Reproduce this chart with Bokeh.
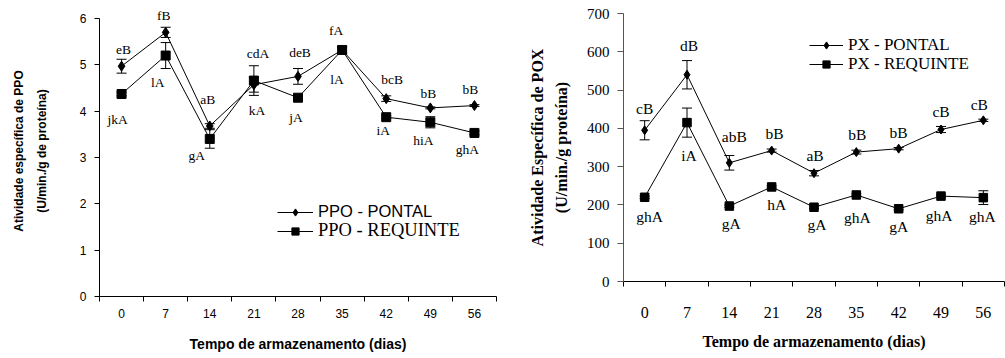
from bokeh.plotting import figure
from bokeh.models import (ColumnDataSource, FixedTicker, Whisker, TeeHead,
                          Legend, LegendItem, Range1d)
from bokeh.embed import file_html
from bokeh.resources import INLINE
from bokeh.core.properties import value

# ---------------- data ----------------
days = [0, 7, 14, 21, 28, 35, 42, 49, 56]

ppo_pontal = [4.97, 5.70, 3.68, 4.57, 4.75, 5.32, 4.27, 4.07, 4.12]
ppo_pontal_err = [0.15, 0.11, 0.05, 0.16, 0.17, 0.06, 0.06, 0.02, 0.02]
ppo_requinte = [4.37, 5.20, 3.40, 4.66, 4.29, 5.32, 3.87, 3.76, 3.53]
ppo_requinte_err = [0.04, 0.28, 0.20, 0.32, 0.04, 0.08, 0.03, 0.12, 0.04]
ppo_pontal_labels = ["eB", "fB", "aB", "cdA", "deB", "fA", "bcB", "bB", "bB"]
ppo_requinte_labels = ["jkA", "lA", "gA", "kA", "jA", "lA", "iA", "hiA", "ghA"]

pox_pontal = [395, 540, 310, 342, 283, 338, 347, 397, 421]
pox_pontal_err = [25, 37, 19, 4, 7, 5, 3, 8, 3]
pox_requinte = [220, 415, 197, 247, 194, 226, 190, 223, 219]
pox_requinte_err = [3, 38, 3, 3, 3, 3, 3, 3, 18]
pox_pontal_labels = ["cB", "dB", "abB", "bB", "aB", "bB", "bB", "cB", "cB"]
pox_requinte_labels = ["ghA", "iA", "gA", "hA", "gA", "ghA", "gA", "ghA", "ghA"]

ppo_yticks = [0, 1, 2, 3, 4, 5, 6]
pox_yticks = [0, 100, 200, 300, 400, 500, 600, 700]

# label offsets (screen px, +y = down)
ppo_p_dx = [2, -2, -2, 4, 2, -6, 6, -2, -4]
ppo_p_dy = [-17, -17, -26, -31, -24, -19, -19, -14, -16]
ppo_r_dx = [-4, -8, -13, 3, -2, -5, -3, -7, -7]
ppo_r_dy = [25, 27, 17, 30, 20, 30, 13, 18, 17]
pox_p_dx = [0, 2, 5, 3, 1, 1, 0, 0, -4]
pox_p_dy = [-22, -29, -26, -17, -18, -18, -16, -18, -16]
pox_r_dx = [5, 2, 2, 5, 3, 1, 0, -2, -1]
pox_r_dy = [19, 33, 17, 18, 17, 23, 18, 19, 19]

SANS = "Liberation Sans"
SERIF = "Liberation Serif"

half = (days[1] - days[0]) / 2
bounds_ticks = [d - half for d in days] + [days[-1] + half]


def series(p, vals, errs, labels, dx, dy, marker, msize, font, fsize):
    src = ColumnDataSource(dict(x=days, y=vals,
                                upper=[v + e for v, e in zip(vals, errs)],
                                lower=[v - e for v, e in zip(vals, errs)],
                                lab=labels, dx=dx, dy=dy))
    p.add_layout(Whisker(source=src, base="x", upper="upper", lower="lower",
                         line_color="black", line_width=1,
                         upper_head=TeeHead(size=10, line_color="black", line_width=1),
                         lower_head=TeeHead(size=10, line_color="black", line_width=1)))
    rl = p.line("x", "y", source=src, line_color="black", line_width=1)
    rs = p.scatter("x", "y", source=src, marker=marker, size=msize,
                   fill_color="black", line_color="black")
    p.text("x", "y", text="lab", source=src, x_offset="dx", y_offset="dy",
           text_font=value(font), text_font_size=fsize, text_align="center",
           text_baseline="middle", text_color="black")
    return rl, rs


def add_legend(p, label, rends, x, y, font, fsize, gw):
    leg = Legend(items=[LegendItem(label=label, renderers=list(rends))],
                 location=(x, y), glyph_width=gw, glyph_height=18,
                 label_height=18, label_standoff=5, padding=0, margin=0,
                 spacing=0, background_fill_alpha=0, border_line_alpha=0,
                 label_text_font=font, label_text_font_size=fsize,
                 label_text_color="black")
    p.add_layout(leg)


def style_axes(p, ytick_vals, ybounds, tick_font, xfs, yfs, axis_font, axis_fs,
               ycolor, ytick_out):
    p.grid.visible = False
    p.outline_line_color = None
    p.background_fill_color = "white"
    xa = p.xaxis[0]
    xa.ticker = FixedTicker(ticks=days, minor_ticks=bounds_ticks)
    xa.major_tick_out = 0
    xa.major_tick_in = 0
    xa.minor_tick_out = 5
    xa.minor_tick_in = 0
    xa.minor_tick_line_color = "black"
    xa.axis_line_color = "black"
    xa.major_label_text_font = tick_font
    xa.major_label_text_font_size = xfs
    xa.major_label_text_color = "black"
    xa.axis_label_text_font = axis_font
    xa.axis_label_text_font_size = axis_fs
    xa.axis_label_text_font_style = "bold"
    xa.axis_label_text_color = "black"
    ya = p.yaxis[0]
    ya.ticker = FixedTicker(ticks=ytick_vals)
    ya.bounds = ybounds
    ya.major_tick_out = ytick_out
    ya.major_tick_in = 0
    ya.minor_tick_line_color = None
    ya.axis_line_color = ycolor
    ya.major_tick_line_color = ycolor
    ya.major_label_text_font = tick_font
    ya.major_label_text_font_size = yfs
    ya.major_label_text_color = "black"
    ya.axis_label_text_font = axis_font
    ya.axis_label_text_font_style = "bold"
    ya.axis_label_text_color = "black"


# ---------------- left: PPO ----------------
p1 = figure(width=505, height=358, output_backend="svg", toolbar_location=None,
            x_range=Range1d(-3.5, 59.5), y_range=Range1d(0, 6.28),
            min_border_left=99, min_border_right=9, min_border_top=5,
            min_border_bottom=62,
            x_axis_label="Tempo de armazenamento (dias)",
            y_axis_label="Atividade específica de PPO\n(U/min./g de proteína)")
style_axes(p1, ppo_yticks, (0, 6), SANS, "12px", "12px", SANS, "14px", "black", 5)
p1.xaxis[0].major_label_standoff = 7
p1.xaxis[0].axis_label_standoff = 15
p1.yaxis[0].major_label_standoff = 8
p1.yaxis[0].axis_label_standoff = 28
p1.yaxis[0].axis_label_text_font_size = "12px"
p1.yaxis[0].axis_label_text_line_height = 1.65

a1 = series(p1, ppo_pontal, ppo_pontal_err, ppo_pontal_labels, ppo_p_dx, ppo_p_dy,
            "diamond", 10, SERIF, "13.5px")
b1 = series(p1, ppo_requinte, ppo_requinte_err, ppo_requinte_labels, ppo_r_dx, ppo_r_dy,
            "square", 9, SERIF, "13.5px")
add_legend(p1, "PPO - PONTAL", a1, 178, 75, SANS, "16.5px", 36)
add_legend(p1, "PPO - REQUINTE", b1, 178, 55, SERIF, "18.5px", 36)

# ---------------- right: POX ----------------
p2 = figure(width=500, height=358, output_backend="svg", toolbar_location=None,
            x_range=Range1d(-3.5, 59.5), y_range=Range1d(0, 700),
            min_border_left=118, min_border_right=1, min_border_top=13,
            min_border_bottom=77,
            x_axis_label="Tempo de armazenamento (dias)",
            y_axis_label="Atividade Específica de POX\n(U/min./g proteína)")
style_axes(p2, pox_yticks, (0, 700), SERIF, "16px", "15px", SERIF, "16px", "#555555", 6)
p2.xaxis[0].major_label_standoff = 20
p2.xaxis[0].axis_label_standoff = 12
p2.yaxis[0].major_label_standoff = 8
p2.yaxis[0].axis_label_standoff = 14
p2.yaxis[0].axis_label_text_font_size = "16px"
p2.yaxis[0].axis_label_text_line_height = 1.4

a2 = series(p2, pox_pontal, pox_pontal_err, pox_pontal_labels, pox_p_dx, pox_p_dy,
            "diamond", 9, SERIF, "15.5px")
b2 = series(p2, pox_requinte, pox_requinte_err, pox_requinte_labels, pox_r_dx, pox_r_dy,
            "square", 8.5, SERIF, "15.5px")
add_legend(p2, "PX - PONTAL", a2, 186, 226, SERIF, "17px", 34)
add_legend(p2, "PX - REQUINTE", b2, 186, 207, SERIF, "17px", 34)

p1.styles = {"position": "absolute", "left": "0px", "top": "0px"}
p2.styles = {"position": "absolute", "left": "505px", "top": "0px"}

open("out.html", "w").write(file_html([p1, p2], INLINE))
